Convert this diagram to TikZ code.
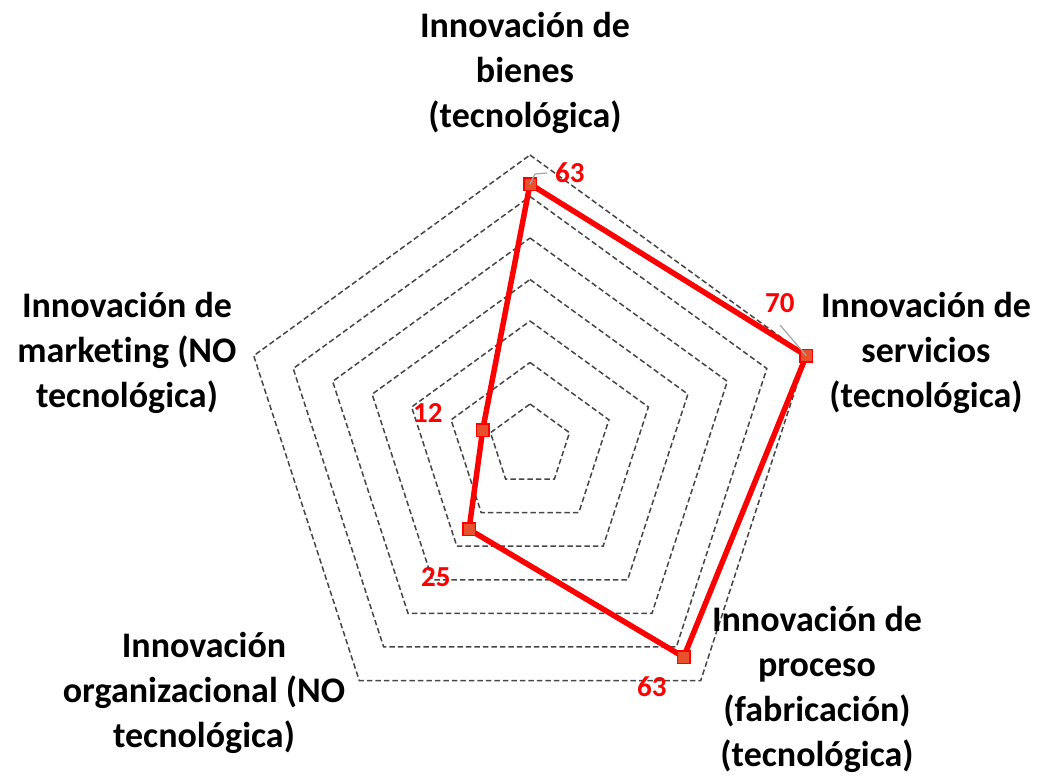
\documentclass[tikz,border=0pt]{standalone}
\usepackage{fontspec}
\setmainfont{Carlito}[Ligatures=NoCommon]
\usetikzlibrary{calc}
\definecolor{radar-red}{RGB}{255, 0, 0}
\definecolor{radar-mark}{RGB}{233, 80, 45}
\definecolor{radar-grid}{RGB}{70, 70, 70}
\definecolor{radar-lead}{RGB}{166, 166, 166}

\begin{document}
\begin{tikzpicture}[x=1pt, y=1pt,
    axislabel/.style={font=\fontsize{36}{45}\selectfont\bfseries, align=center, inner sep=0pt, anchor=base},
    vallabel/.style={font=\fontsize{29}{29}\selectfont\bfseries, text=radar-red, inner sep=0pt, anchor=base west},
    marker/.style={draw=radar-red, fill=radar-mark, line width=1.5pt, minimum size=12.5pt, inner sep=0pt}]
          \useasboundingbox (0, 0) rectangle (1042, 776);
          \coordinate (center) at (530, 330.5);

          % rings, 10 units each
          \foreach \k in {1,...,7}
            \draw[radar-grid, line width=1.5pt, dash pattern=on 5.5pt off 3pt]
              ($(center) + (90:\k*41.5)$) -- ($(center) + (18:\k*41.5)$) -- ($(center) + (-54:\k*41.5)$)
              -- ($(center) + (-126:\k*41.5)$) -- ($(center) + (162:\k*41.5)$) -- cycle;

          \coordinate (bienes) at ($(center) + (90:63*4.15)$);
          \coordinate (servicios) at ($(center) + (18:70*4.15)$);
          \coordinate (proceso) at ($(center) + (-54:63*4.15)$);
          \coordinate (organizacional) at ($(center) + (-126:25*4.15)$);
          \coordinate (marketing) at ($(center) + (162:12*4.15)$);

          \draw[radar-red, line width=5.5pt, line join=round]
            (bienes) -- (servicios) -- (proceso) -- (organizacional) -- (marketing) -- cycle;

          \node[marker] (m-bienes) at (bienes) {};
          \node[marker] (m-servicios) at (servicios) {};
          \node[marker] (m-proceso) at (proceso) {};
          \node[marker] (m-organizacional) at (organizacional) {};
          \node[marker] (m-marketing) at (marketing) {};

          % values
          \node[vallabel] (v-bienes) at (555, 593) {63};
          \node[vallabel] (v-servicios) at (765, 463) {70};
          \node[vallabel] (v-proceso) at (637, 79) {63};
          \node[vallabel] (v-organizacional) at (421, 189) {25};
          \node[vallabel] (v-marketing) at (413, 353) {12};

          \coordinate (lead-bienes) at (547, 603);
          \coordinate (lead-servicios) at (780, 451);
          \draw[radar-lead, line width=1.2pt] (m-bienes.center) -- ++(5, 10) -- (lead-bienes);
          \draw[radar-lead, line width=1.2pt] (m-servicios.center) -- (lead-servicios);

          % axis labels (anchored on the last line)
          \node[axislabel] (l-bienes) at (525, 648) {Innovación de\\bienes\\(tecnológica)};
          \node[axislabel] (l-servicios) at (926, 368) {Innovación de\\servicios\\(tecnológica)};
          \node[axislabel] (l-proceso) at (817, 9) {Innovación de\\proceso\\(fabricación)\\(tecnológica)};
          \node[axislabel] (l-organizacional) at (204, 28) {Innovación\\organizacional (NO\\tecnológica)};
          \node[axislabel] (l-marketing) at (127, 368) {Innovación de\\marketing (NO\\tecnológica)};

        \end{tikzpicture}
\end{document}
